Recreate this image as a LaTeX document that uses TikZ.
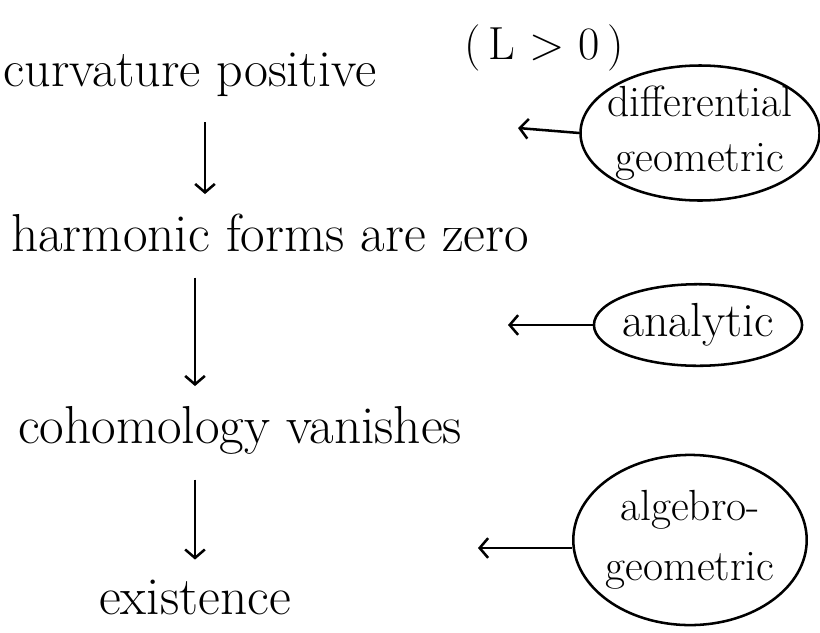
\documentclass[tikz,border=0pt]{standalone}
\usepackage{tikz}
\usetikzlibrary{shapes.geometric, arrows.meta, positioning, calc}

\begin{document}
\begin{tikzpicture}[
x=0.025cm, y=-0.025cm,
>={Straight Barb[length=6pt, width=14pt]},
stmt/.style={font=\fontsize{38}{42}\selectfont, inner sep=2pt},
kind/.style={draw, ellipse, line width=1.8pt, align=center, inner sep=-20pt, font=\fontsize{31}{39}\selectfont},
implies/.style={->, line width=1.8pt, shorten <=16pt, shorten >=12pt},
hint/.style={->, line width=1.8pt}
]
\useasboundingbox (0,0) rectangle (820,632);

% --- Statements ---
\node[stmt, font=\fontsize{37}{42}\selectfont] (cp) at (190,75) {curvature positive};
\node[stmt, font=\fontsize{33}{38}\selectfont] (lpos) at (544,48) {(\,L > 0\,)};
\node[stmt] (hf) at (270,233) {harmonic forms are zero};
\node[stmt] (co) at (240,430) {cohomology vanishes};
\node[stmt] (ex) at (195,597) {existence};

% --- Down arrows ---
\draw[implies] (cp.south -| 205,0) -- (hf.north -| 205,0);
\draw[implies] (hf.south -| ex.north) -- (co.north -| ex.north);
\draw[implies] (co.south -| ex.north) -- (ex.north);

% --- Methods ---
\node[kind, minimum width=170pt, minimum height=96pt] (dg) at (700,133) {differential\\geometric};
\node[kind, minimum width=148pt, minimum height=58pt, font=\fontsize{34}{39}\selectfont] (an) at (698,325) {analytic};
\node[kind, minimum width=166pt, minimum height=121pt, font=\fontsize{31}{43}\selectfont] (ag) at (690,540) {algebro-\\geometric};

\coordinate (t1) at (518,128);
\coordinate (t2) at (508,325);
\coordinate (t3) at (478,548);

\draw[hint] (dg.west) -- (t1);
\draw[hint] (an.west) -- (t2);
\draw[hint] (ag.west |- t3) -- (t3);

\end{tikzpicture}
\end{document}
